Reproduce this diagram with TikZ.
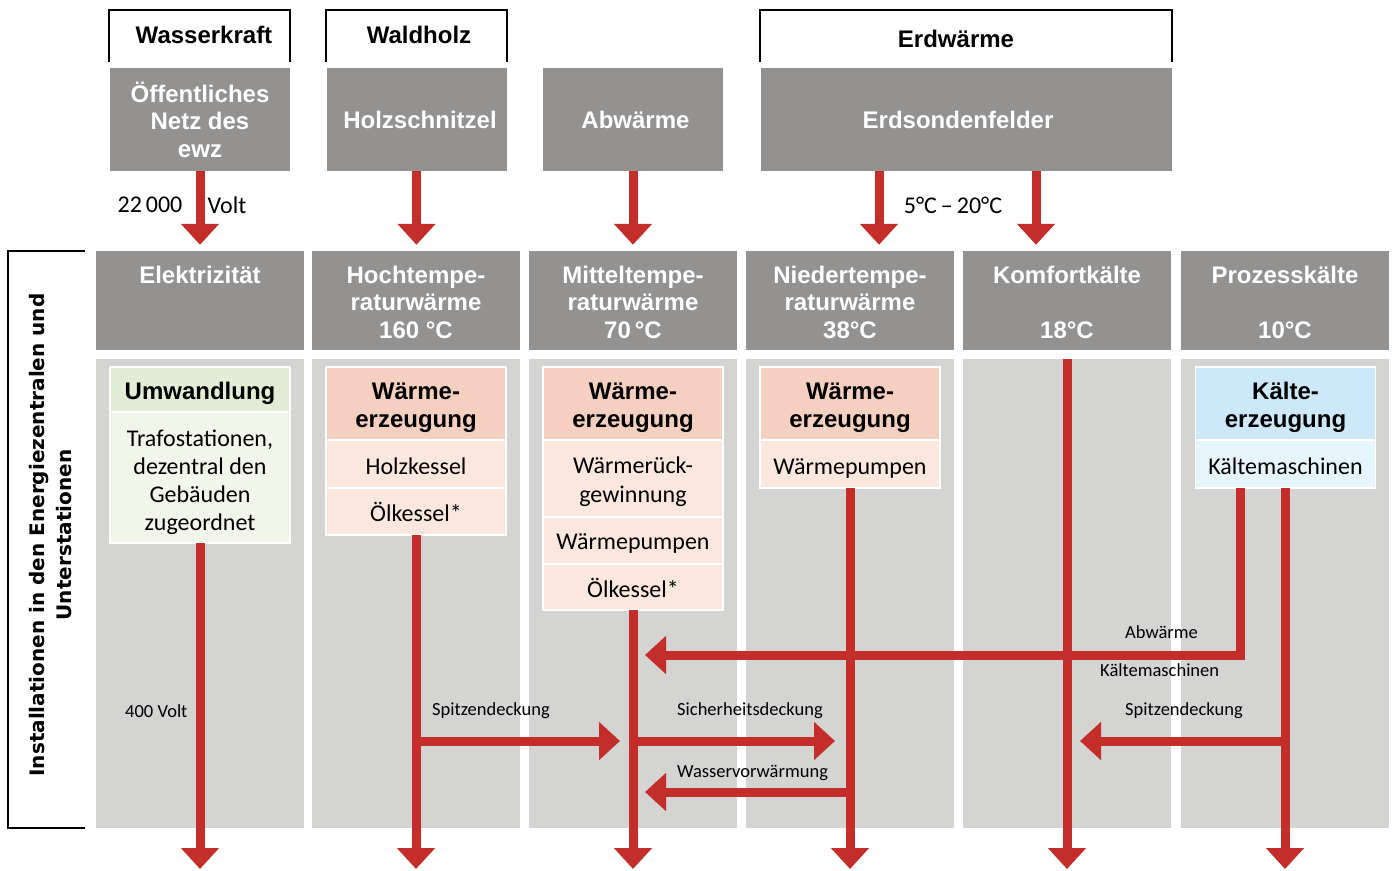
\documentclass[tikz,border=0pt]{standalone}
\usepackage{fontspec}
\setmainfont{Carlito}
\newfontfamily\headfont{Liberation Sans}
\newfontfamily\sidefont{DejaVu Sans}
\usepackage{tikz}
\usetikzlibrary{arrows.meta, positioning}
\definecolor{flowred}{RGB}{196,46,42}
\definecolor{boxgray}{RGB}{147,146,145}
\definecolor{colgray}{RGB}{212,212,211}
\definecolor{heatdark}{RGB}{245,207,192}
\definecolor{heatlight}{RGB}{251,231,222}
\definecolor{convdark}{RGB}{227,236,212}
\definecolor{convlight}{RGB}{242,246,234}
\definecolor{colddark}{RGB}{205,233,249}
\definecolor{coldlight}{RGB}{230,244,252}
\newcommand\firstgap[1]{\rule{0pt}{#1}}
\tikzset{
    bracket/.style={draw=black, line width=2pt},
    toplabel/.style={font=\headfont\bfseries\fontsize{24}{27}\selectfont, inner sep=0},
    source/.style={rectangle, fill=boxgray, text=white, minimum width=180, minimum height=103, inner sep=0, align=center, font=\headfont\bfseries\fontsize{24}{27.5}\selectfont},
    catbox/.style={rectangle, fill=boxgray, minimum width=208, minimum height=99, inner sep=0},
    cattext/.style={anchor=north, text=white, inner sep=0, align=center, font=\headfont\bfseries\fontsize{24}{27.5}\selectfont},
    column/.style={rectangle, fill=colgray, minimum width=208, minimum height=469, inner sep=0},
    lowered/.style={execute at begin node={\firstgap{#1}}},
    head/.style={rectangle, draw=white, line width=1.5pt, outer sep=0, inner sep=0, minimum width=180, align=center, font=\headfont\bfseries\fontsize{24}{28}\selectfont},
    row/.style={rectangle, draw=white, line width=1.5pt, outer sep=0, inner sep=0, minimum width=180, align=center, lowered=21pt, font=\fontsize{24}{28}\selectfont},
    flowlabel/.style={anchor=west, inner sep=0, font=\fontsize{18.5}{20}\selectfont},
    biglabel/.style={inner sep=0, font=\fontsize{24}{26}\selectfont},
    flow/.style={draw=flowred, line width=9pt},
    flowarrow/.style={flow, -{Triangle[width=37pt,length=21pt]}}
}
\begin{document}
\begin{tikzpicture}[x=1pt, y=-1pt]
    \useasboundingbox (0,0) rectangle (1394,870);

    % Primary energy sources
    \draw[bracket] (109,62) -- (109,10) -- (290,10) -- (290,62);
    \draw[bracket] (326,62) -- (326,10) -- (507,10) -- (507,62);
    \draw[bracket] (760,62) -- (760,10) -- (1172,10) -- (1172,62);
    \node[toplabel] (wasser) at (204,35) {Wasserkraft};
    \node[toplabel] (waldholz) at (419,35) {Waldholz};
    \node[toplabel] (erdwaerme) at (956,39) {Erdwärme};

    \node[source] (netz) at (200,119.5) {Öffentliches\\Netz des\\ewz};
    \node[source] (holz) at (416.5,119.5) {\hspace{7pt}Holzschnitzel};
    \node[source] (abwaerme) at (633,119.5) {\hspace{5pt}Abwärme};
    \node[source, minimum width=411] (sonden) at (966.5,119.5) {Erdsondenfelder\hspace{17pt}};

    % Energy forms and columns
    \foreach \name/\x in {elek/200, hoch/416, mittel/633, nieder/850, komfort/1067, prozess/1285} {
        \node[catbox] (\name) at (\x,300.5) {};
        \node[column] (\name col) at (\x,593.5) {};
    }
    \node[cattext] (elektext) at ([yshift=-15]elek.north) {Elektrizität};
    \node[cattext] (hochtext) at ([yshift=-15]hoch.north) {Hochtempe-\\raturwärme\\160 °C};
    \node[cattext] (mitteltext) at ([yshift=-15]mittel.north) {Mitteltempe-\\raturwärme\\70\,°C};
    \node[cattext] (niedertext) at ([yshift=-15]nieder.north) {Niedertempe-\\raturwärme\\38°C};
    \node[cattext] (komforttext) at ([yshift=-15]komfort.north) {Komfortkälte\\\strut\\18°C};
    \node[cattext] (prozesstext) at ([yshift=-15]prozess.north) {Prozesskälte\\\strut\\10°C};

    % Side label
    \draw[bracket] (85,251) -- (8,251) -- (8,828) -- (85,828);
    \node[rotate=90, align=center, inner sep=0, font=\sidefont\bfseries\fontsize{20}{27}\selectfont] (install) at (51,535) {Installationen in den Energiezentralen und\\Unterstationen};

    % Installations
    \node[head, fill=convdark, minimum height=45, lowered=25.5pt] (umw) at (200,389.5) {Umwandlung};
    \node[row, fill=convlight, minimum height=131, below=0pt of umw] (umwbody) {\firstgap{27pt}Trafostationen,\\dezentral den\\Gebäuden\\zugeordnet};

    \node[head, fill=heatdark, minimum height=73] (hochhead) at (416,403.5) {\firstgap{25.5pt}Wärme-\\erzeugung};
    \node[row, fill=heatlight, minimum height=48, below=0pt of hochhead] (holzkessel) {Holzkessel};
    \node[row, fill=heatlight, minimum height=47, lowered=17pt, below=0pt of holzkessel] (hochoel) {Ölkessel*};

    \node[head, fill=heatdark, minimum height=73] (mittelhead) at (633,403.5) {\firstgap{25.5pt}Wärme-\\erzeugung};
    \node[row, fill=heatlight, minimum height=77, font=\fontsize{24}{29}\selectfont, below=0pt of mittelhead] (rueck) {\firstgap{24pt}Wärmerück-\\gewinnung};
    \node[row, fill=heatlight, minimum height=47, lowered=22pt, below=0pt of rueck] (mittelpumpe) {Wärmepumpen};
    \node[row, fill=heatlight, minimum height=46, lowered=17pt, below=0pt of mittelpumpe] (mitteloel) {Ölkessel*};

    \node[head, fill=heatdark, minimum height=73] (niederhead) at (850,403.5) {\firstgap{25.5pt}Wärme-\\erzeugung};
    \node[row, fill=heatlight, minimum height=48, lowered=24pt, below=0pt of niederhead] (niederpumpe) {Wärmepumpen};

    \node[head, fill=colddark, minimum height=73] (kaeltehead) at (1285.5,403.5) {\firstgap{25.5pt}Kälte-\\erzeugung};
    \node[row, fill=coldlight, minimum height=48, below=0pt of kaeltehead] (kaeltemasch) {Kältemaschinen};

    % Supply arrows
    \draw[flowarrow, shorten >=6pt] (netz.south) -- (netz.south |- elek.north);
    \draw[flowarrow, shorten >=6pt] (holz.south) -- (holz.south |- hoch.north);
    \draw[flowarrow, shorten >=6pt] (abwaerme.south) -- (abwaerme.south |- mittel.north);
    \draw[flowarrow, shorten >=6pt] ([xshift=-87.5]sonden.south) -- ([xshift=-87.5]sonden.south |- nieder.north);
    \draw[flowarrow, shorten >=6pt] ([xshift=69.5]sonden.south) -- ([xshift=69.5]sonden.south |- komfort.north);
    \node[biglabel] (hochvolt) at (150,205) {22\,000};
    \node[biglabel] (volt) at (227,205) {Volt};
    \node[biglabel] (erdtemp) at (953,205) {5°C\,–\,20°C};

    % Distribution
    \coordinate (bottom) at (0,869);
    \coordinate (yabw) at (0,655);
    \coordinate (ydeck) at (0,741);
    \coordinate (ywasser) at (0,792);
    \draw[flowarrow] (umwbody.south) -- (umwbody.south |- bottom);
    \draw[flowarrow] (hochoel.south) -- (hochoel.south |- bottom);
    \draw[flowarrow] (mitteloel.south) -- (mitteloel.south |- bottom);
    \draw[flowarrow] (niederpumpe.south) -- (niederpumpe.south |- bottom);
    \draw[flowarrow] (komfortcol.north) -- (komfortcol.north |- bottom);
    \draw[flowarrow] ([xshift=-0.5]kaeltemasch.south) -- ([xshift=-0.5]kaeltemasch.south |- bottom);

    \draw[flowarrow] ([xshift=-45]kaeltemasch.south) |- ([xshift=12]mitteloel.south |- yabw);
    \draw[flowarrow] (hochoel.south |- ydeck) -- ([xshift=-13]mitteloel.south |- ydeck);
    \draw[flowarrow] (mitteloel.south |- ydeck) -- ([xshift=-15]niederpumpe.south |- ydeck);
    \draw[flowarrow] (niederpumpe.south |- ywasser) -- ([xshift=12]mitteloel.south |- ywasser);
    \draw[flowarrow] ([xshift=-0.5]kaeltemasch.south |- ydeck) -- ([xshift=13]komfortcol.north |- ydeck);

    % Flow labels
    \node[flowlabel] (niedervolt) at (125,711) {400 Volt};
    \node[flowlabel] (spitzeL) at (432,711) {Spitzendeckung};
    \node[flowlabel] (sicher) at (677,711) {Sicherheitsdeckung};
    \node[flowlabel] (wasservor) at (677,773) {Wasservorwärmung};
    \node[flowlabel] (abwlabel) at (1125,632) {Abwärme};
    \node[flowlabel] (kaeltelabel) at (1100,670) {Kältemaschinen};
    \node[flowlabel] (spitzeR) at (1125,711) {Spitzendeckung};
\end{tikzpicture}
\end{document}
